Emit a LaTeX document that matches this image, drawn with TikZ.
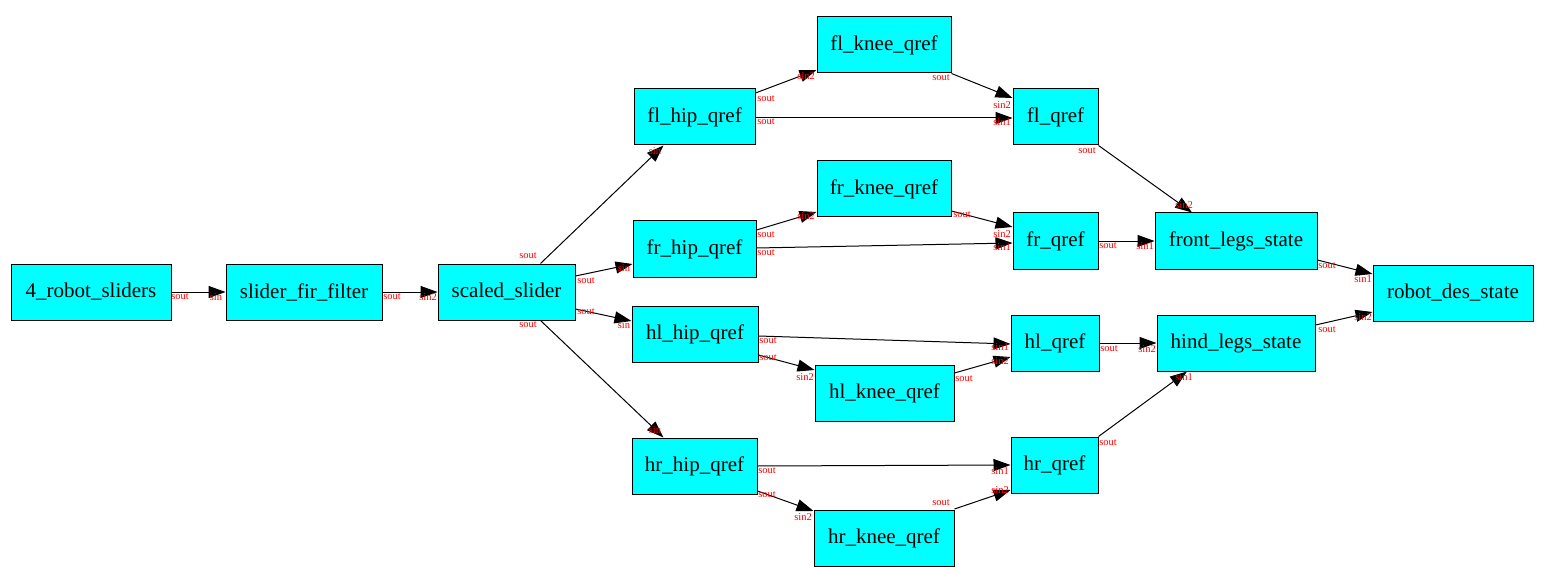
\documentclass[tikz,border=0pt]{standalone}
\usepackage{fontspec}
\setmainfont{Liberation Serif}
\usetikzlibrary{arrows.meta}
\definecolor{gvcyan}{RGB}{0,255,255}
\definecolor{gvred}{RGB}{255,0,0}
\newcommand\portlbl[4]{\node[lab] (#1) at (#2,#3) {#4};}
\begin{document}
\begin{tikzpicture}[x=1pt,y=-1pt,
  blk/.style={draw=black, line width=1pt, fill=gvcyan, inner sep=0pt,
    minimum height=56pt, font=\fontsize{21}{23}\selectfont},
  conn/.style={draw=black, line width=1pt, -{Triangle[length=17pt,width=12pt]}},
  lab/.style={text=gvred, inner sep=0pt, font=\fontsize{10.5}{11}\selectfont}]
\useasboundingbox (0,0) rectangle (1555,572);

\node[blk, minimum width=160pt] (rs) at (91,292) {4\_robot\_sliders};
\node[blk, minimum width=156pt] (fir) at (304,292) {slider\_fir\_filter};
\node[blk, minimum width=137pt] (sc) at (506.5,292) {scaled\_slider};
\node[blk, minimum width=121pt] (flh) at (694.5,117) {fl\_hip\_qref};
\node[blk, minimum width=123pt] (frh) at (694.5,249) {fr\_hip\_qref};
\node[blk, minimum width=126pt] (hlh) at (695,334) {hl\_hip\_qref};
\node[blk, minimum width=125pt] (hrh) at (694.5,466) {hr\_hip\_qref};
\node[blk, minimum width=134pt] (flk) at (884,45) {fl\_knee\_qref};
\node[blk, minimum width=134pt] (frk) at (884,189) {fr\_knee\_qref};
\node[blk, minimum width=139pt] (hlk) at (884.5,393) {hl\_knee\_qref};
\node[blk, minimum width=140pt] (hrk) at (884,538) {hr\_knee\_qref};
\node[blk, minimum width=85pt] (flq) at (1055.5,117) {fl\_qref};
\node[blk, minimum width=85pt] (frq) at (1055.5,241) {fr\_qref};
\node[blk, minimum width=88pt] (hlq) at (1055,343) {hl\_qref};
\node[blk, minimum width=87pt] (hrq) at (1054.5,465) {hr\_qref};
\node[blk, minimum width=162pt] (fls) at (1236,241) {front\_legs\_state};
\node[blk, minimum width=158pt] (hls) at (1236,343) {hind\_legs\_state};
\node[blk, minimum width=160pt] (rds) at (1453,293) {robot\_des\_state};

\draw[conn] (rs.east) -- (fir.west);
\draw[conn] (fir.east) -- (sc.west);
\draw[conn] ([xshift=34pt]sc.north) -- ([xshift=-31pt]flh.south);
\draw[conn] ([yshift=16pt]sc.east) -- ([yshift=-15pt]frh.west);
\draw[conn] ([yshift=-17pt]sc.east) -- ([yshift=13pt]hlh.west);
\draw[conn] ([xshift=34pt]sc.south) -- ([xshift=-31pt]hrh.north);
\draw[conn] ([yshift=24pt]flh.east) -- ([yshift=-25pt]flk.west);
\draw[conn] ([yshift=-1pt]flh.east) -- ([yshift=-1pt]flq.west);
\draw[conn] (flk.south east) -- ([yshift=19pt]flq.west);
\draw[conn] (flq.south east) -- ([xshift=-44pt]fls.north);
\draw[conn] ([yshift=19pt]frh.east) -- ([yshift=-23pt]frk.west);
\draw[conn] ([yshift=1pt]frh.east) -- ([yshift=-2pt]frq.west);
\draw[conn] ([yshift=-22pt]frk.east) -- ([yshift=14pt]frq.west);
\draw[conn] (frq.east) -- (fls.west);
\draw[conn] ([yshift=-19pt]fls.east) -- ([yshift=19pt]rds.west);
\draw[conn] ([yshift=18pt]hls.east) -- ([yshift=-19pt]rds.west);
\draw[conn] ([yshift=-2pt]hlh.east) -- ([yshift=-1pt]hlq.west);
\draw[conn] ([yshift=-21pt]hlh.east) -- ([yshift=23pt]hlk.west);
\draw[conn] ([yshift=20pt]hlk.east) -- ([yshift=-14pt]hlq.west);
\draw[conn] (hlq.east) -- (hls.west);
\draw[conn] (hrq.north east) -- ([xshift=-49pt]hls.south);
\draw[conn] (hrh.east) -- (hrq.west);
\draw[conn] ([yshift=-25pt]hrh.east) -- ([yshift=27pt]hrk.west);
\draw[conn] ([yshift=29pt]hrk.east) -- ([yshift=-25pt]hrq.west);

\portlbl{a1}{180}{297}{sout}
\portlbl{a2}{216}{297}{sin}
\portlbl{b1}{392}{297}{sout}
\portlbl{b2}{428}{297}{sin2}
\portlbl{c1}{528}{256}{sout}
\portlbl{c2}{655}{151}{sin}
\portlbl{d1}{586}{281}{sout}
\portlbl{d2}{624}{268}{sin}
\portlbl{e1}{586}{312}{sout}
\portlbl{e2}{624}{325}{sin}
\portlbl{f1}{528}{325}{sout}
\portlbl{f2}{655}{430}{sin}
\portlbl{g1}{766}{99}{sout}
\portlbl{g2}{806}{76}{sin2}
\portlbl{h1}{766}{122}{sout}
\portlbl{h2}{1002}{122}{sin1}
\portlbl{i1}{941}{78}{sout}
\portlbl{i2}{1002}{105}{sin2}
\portlbl{j1}{1087}{151}{sout}
\portlbl{j2}{1184}{205}{sin2}
\portlbl{k1}{766}{235}{sout}
\portlbl{k2}{806}{216}{sin2}
\portlbl{l1}{766}{253}{sout}
\portlbl{l2}{1002}{247}{sin1}
\portlbl{m1}{962}{215}{sout}
\portlbl{m2}{1002}{234}{sin2}
\portlbl{n1}{1108}{246}{sout}
\portlbl{n2}{1145}{246}{sin1}
\portlbl{o1}{1327}{266}{sout}
\portlbl{o2}{1363}{279}{sin1}
\portlbl{p1}{1327}{330}{sout}
\portlbl{p2}{1363}{317}{sin2}
\portlbl{q1}{768}{341}{sout}
\portlbl{q2}{1000}{347}{sin1}
\portlbl{r1}{768}{358}{sout}
\portlbl{r2}{805}{377}{sin2}
\portlbl{s1}{964}{379}{sout}
\portlbl{s2}{1000}{361}{sin2}
\portlbl{t1}{1109}{349}{sout}
\portlbl{t2}{1147}{349}{sin2}
\portlbl{u1}{1108}{443}{sout}
\portlbl{u2}{1184}{377}{sin1}
\portlbl{v1}{767}{471}{sout}
\portlbl{v2}{1000}{471}{sin1}
\portlbl{w1}{767}{495}{sout}
\portlbl{w2}{803}{517}{sin2}
\portlbl{x1}{941}{503}{sout}
\portlbl{x2}{1000}{490}{sin2}
\end{tikzpicture}
\end{document}
